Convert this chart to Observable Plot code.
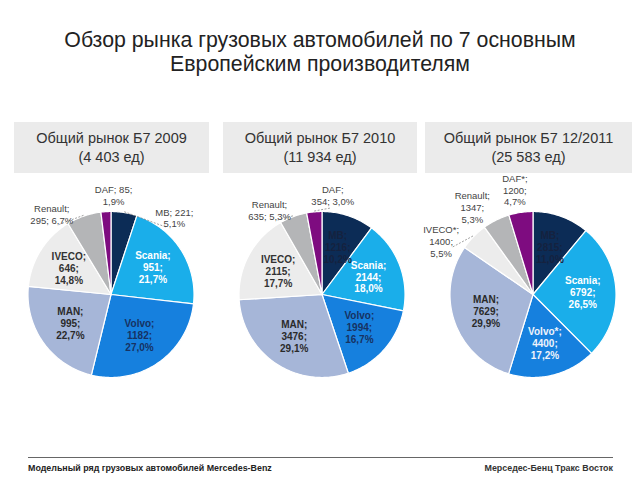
<!DOCTYPE html>
<html><head><meta charset="utf-8">
<script src="https://cdn.jsdelivr.net/npm/d3@7"></script>
<script src="https://cdn.jsdelivr.net/npm/@observablehq/plot@0.6"></script>
<style>
body{margin:0;background:#fff;font-family:"Liberation Sans",Arial,sans-serif;}
#page{position:relative;width:640px;height:480px;overflow:hidden;background:#fff;}
.title{position:absolute;left:0;top:28px;width:640px;text-align:center;font-size:21.3px;line-height:24px;color:#222;}
.box{position:absolute;top:122px;height:51px;background:#ebebeb;color:#333;font-size:14.5px;line-height:19px;text-align:center;display:flex;flex-direction:column;justify-content:center;}
#chart{position:absolute;left:0;top:176px;}
.rule{position:absolute;left:28px;width:585px;top:457px;height:0;border-top:1.5px solid #666;}
.foot{position:absolute;top:463px;font-size:8.9px;font-weight:bold;color:#222;white-space:nowrap;}
</style></head><body>
<div id="page">
  <div class="title">Обзор рынка грузовых автомобилей по 7 основным<br>Европейским производителям</div>
  <div id="boxes"></div>
  <div id="chart"></div>
  <div class="rule"></div>
  <div class="foot" style="left:28px">Модельный ряд грузовых автомобилей Mercedes-Benz</div>
  <div class="foot" style="right:27px;color:#333;font-weight:600">Мерседес-Бенц Тракс Восток</div>
</div>
<script>
// ---- data ----
const years = ["2009", "2010", "2011"];
const boxTitles = ["Общий рынок Б7 2009", "Общий рынок Б7 2010", "Общий рынок Б7 12/2011"];
const boxTotals = ["(4 403 ед)", "(11 934 ед)", "(25 583 ед)"];
const brands = ["MB", "Scania", "Volvo", "MAN", "IVECO", "Renault", "DAF"];
const names2009 = ["MB", "Scania", "Volvo", "MAN", "IVECO", "Renault", "DAF"];
const names2010 = ["MB", "Scania", "Volvo", "MAN", "IVECO", "Renault", "DAF"];
const names2011 = ["MB", "Scania", "Volvo*", "MAN", "IVECO*", "Renault", "DAF*"];
const units2009 = [221, 951, 1182, 995, 646, 295, 85];
const units2010 = [1216, 2144, 1994, 3476, 2115, 635, 354];
const units2011 = [2815, 6792, 4400, 7629, 1400, 1347, 1200];
const share2009 = ["5,1%", "21,7%", "27,0%", "22,7%", "14,8%", "6,7%", "1,9%"];
const share2010 = ["10,2%", "18,0%", "16,7%", "29,1%", "17,7%", "5,3%", "3,0%"];
const share2011 = ["11,0%", "26,5%", "17,2%", "29,9%", "5,5%", "5,3%", "4,7%"];
const outside2009 = ["MB", "Renault", "DAF"];
const outside2010 = ["Renault", "DAF"];
const outside2011 = ["IVECO", "Renault", "DAF"];

// ---- style / layout ----
const colors = ["#0c2c56", "#1aaeea", "#1680de", "#a6b6d8", "#ececec", "#b4b5b7", "#7e0c80"];
const insideInk = {MB: "#15223f", Scania: "#ffffff", Volvo: "#173262", MAN: "#2a2a2a", IVECO: "#333333"};
const inkOverride = {"2011|Volvo": "#eef3fb"};
const linePattern = {"2009|MB": "2a", "2009|DAF": "2a", "2009|Renault": "2b", "2010|DAF": "2b", "2010|Renault": "2b"};
const spreadShift = {"2009": 6, "2010": 0, "2011": -8}; // degrees

// header boxes
const boxLeft = [14, 223, 425], boxWidth = [195, 194, 207];
const boxesDiv = document.getElementById("boxes");
years.forEach((y, i) => {
  const d = document.createElement("div");
  d.className = "box";
  d.style.left = boxLeft[i] + "px";
  d.style.width = boxWidth[i] + "px";
  d.innerHTML = `<div>${boxTitles[i]}</div><div>${boxTotals[i]}</div>`;
  boxesDiv.appendChild(d);
});

const series = {
  "2009": {units: units2009, shares: share2009, names: names2009, outside: outside2009},
  "2010": {units: units2010, shares: share2010, names: names2010, outside: outside2010},
  "2011": {units: units2011, shares: share2011, names: names2011, outside: outside2011}
};

const slices = [];
for (const yr of years) {
  const s = series[yr];
  const arcs = d3.pie().sort(null).value(d => d)(s.units);
  arcs.forEach((a, i) => slices.push({
    year: yr, brand: brands[i], name: s.names[i], value: s.units[i], share: s.shares[i],
    a0: a.startAngle, a1: a.endAngle, mid: (a.startAngle + a.endAngle) / 2,
    outside: s.outside.includes(brands[i])
  }));
}

// polygons for slices
const pts = [];
slices.forEach((s, k) => {
  const n = Math.max(2, Math.ceil((s.a1 - s.a0) / (Math.PI / 180)));
  pts.push({id: k, year: s.year, brand: s.brand, x: 0, y: 0});
  for (let j = 0; j <= n; j++) {
    const a = s.a0 + (s.a1 - s.a0) * j / n;
    pts.push({id: k, year: s.year, brand: s.brand, x: Math.sin(a), y: Math.cos(a)});
  }
  pts.push({id: k, year: s.year, brand: s.brand, x: 0, y: 0});
});

function labelText(s, pattern) {
  if (pattern === "2a") return `${s.name}; ${s.value};\n${s.share}`;
  if (pattern === "2b") return `${s.name};\n${s.value}; ${s.share}`;
  return `${s.name};\n${s.value};\n${s.share}`;
}

const inside = [], outsideLabels = [], leaders = [];
for (const s of slices) {
  const key = s.year + "|" + s.brand;
  const pat = linePattern[key] || "3";
  s.text = labelText(s, pat);
  s.lines = pat === "3" ? 3 : 2;
  if (!s.outside) {
    const r = 0.6;
    inside.push({...s, x: r * Math.sin(s.mid), y: r * Math.cos(s.mid), ink: inkOverride[key] || insideInk[s.brand]});
  }
}
// outside labels: spread around the mid angles
const deg = Math.PI / 180;
for (const yr of years) {
  const list = slices.filter(s => s.year === yr && s.outside)
    .map(s => ({...s, ang: s.mid > Math.PI ? s.mid - 2 * Math.PI : s.mid}))
    .sort((a, b) => a.ang - b.ang);
  const G = d3.max(list, d => d.lines === 2 ? 38 : 25) * deg;
  let crowded = false;
  for (let i = 1; i < list.length; i++) if (list[i].ang - list[i - 1].ang < G) crowded = true;
  const mean = d3.mean(list, d => d.ang) + spreadShift[yr] * deg;
  list.forEach((d, i) => {
    const la = crowded ? mean + (i - (list.length - 1) / 2) * G : d.ang;
    const rl = d.lines === 2 ? 1.2 : 1.28;
    outsideLabels.push({...d, x: rl * Math.sin(la), y: rl * Math.cos(la)});
    if (Math.abs(la - d.ang) > 10 * deg) {
      const re = rl - 0.15;
      leaders.push({year: yr, x1: 1.01 * Math.sin(d.ang), y1: 1.01 * Math.cos(d.ang), x2: re * Math.sin(la), y2: re * Math.cos(la)});
    }
  });
}

const R = 83, facetW = 211, H = 236;
const hx = facetW / 2 / R, hy = H / 2 / R;
const font = "Liberation Sans, Arial, sans-serif";
const inks = [...new Set(inside.map(d => d.ink))];

const chart = Plot.plot({
  width: 640, height: H,
  marginLeft: 5, marginRight: 2, marginTop: 0, marginBottom: 0,
  fx: {domain: years, padding: 0, axis: null, label: null},
  x: {domain: [-hx, hx], axis: null},
  y: {domain: [-hy, hy], axis: null},
  color: {domain: brands, range: colors},
  style: {fontFamily: font, background: "transparent", overflow: "visible"},
  marks: [
    Plot.line(pts, {x: "x", y: "y", z: "id", fx: "year", fill: "brand", stroke: "white", strokeWidth: 1.2, curve: "linear"}),
    Plot.link(leaders, {x1: "x1", y1: "y1", x2: "x2", y2: "y2", fx: "year", stroke: "#777", strokeWidth: 0.7, strokeDasharray: "2,1.5"}),
    ...inks.map(ink => Plot.text(inside.filter(d => d.ink === ink), {x: "x", y: "y", fx: "year", text: "text", fill: ink, fontWeight: "bold", fontSize: 10, lineHeight: 1.2, fontFamily: font})),
    Plot.text(outsideLabels, {x: "x", y: "y", fx: "year", text: "text", fill: "#444", fontSize: 9.5, lineHeight: 1.25, fontFamily: font})
  ]
});
document.getElementById("chart").appendChild(chart);
</script>
</body></html>
